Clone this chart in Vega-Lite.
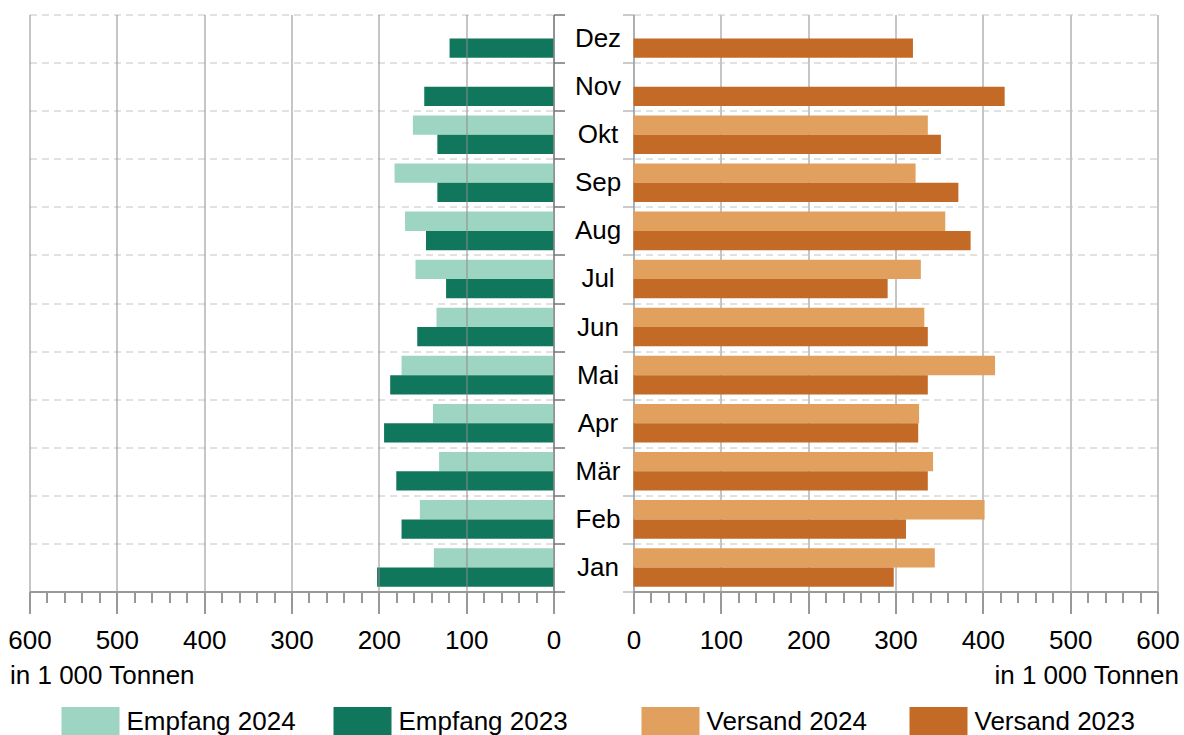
{
  "$schema": "https://vega.github.io/schema/vega-lite/v6.json",
  "autosize": {"type": "pad"},
  "padding": {"left": 7.5, "top": 1.5, "right": 5, "bottom": 0},
  "bounds": "flush",
  "spacing": 80,
  "config": {
    "font": "Liberation Sans",
    "view": {"stroke": null},
    "axis": {"labelFont": "Liberation Sans", "titleFont": "Liberation Sans", "titleFontWeight": "normal", "labelColor": "#000", "titleColor": "#000"},
    "legend": {"labelFont": "Liberation Sans", "labelColor": "#000"}
  },
  "datasets": {
    "empfang": [
      {"month": "Dez", "series": "Empfang 2023", "value": 119},
      {"month": "Nov", "series": "Empfang 2023", "value": 148},
      {"month": "Okt", "series": "Empfang 2024", "value": 161},
      {"month": "Okt", "series": "Empfang 2023", "value": 133},
      {"month": "Sep", "series": "Empfang 2024", "value": 182},
      {"month": "Sep", "series": "Empfang 2023", "value": 133},
      {"month": "Aug", "series": "Empfang 2024", "value": 170},
      {"month": "Aug", "series": "Empfang 2023", "value": 146},
      {"month": "Jul", "series": "Empfang 2024", "value": 158},
      {"month": "Jul", "series": "Empfang 2023", "value": 123},
      {"month": "Jun", "series": "Empfang 2024", "value": 134},
      {"month": "Jun", "series": "Empfang 2023", "value": 156},
      {"month": "Mai", "series": "Empfang 2024", "value": 174},
      {"month": "Mai", "series": "Empfang 2023", "value": 187},
      {"month": "Apr", "series": "Empfang 2024", "value": 138},
      {"month": "Apr", "series": "Empfang 2023", "value": 194},
      {"month": "Mär", "series": "Empfang 2024", "value": 131},
      {"month": "Mär", "series": "Empfang 2023", "value": 180},
      {"month": "Feb", "series": "Empfang 2024", "value": 153},
      {"month": "Feb", "series": "Empfang 2023", "value": 174},
      {"month": "Jan", "series": "Empfang 2024", "value": 137},
      {"month": "Jan", "series": "Empfang 2023", "value": 202}
    ],
    "versand": [
      {"month": "Dez", "series": "Versand 2023", "value": 320},
      {"month": "Nov", "series": "Versand 2023", "value": 425},
      {"month": "Okt", "series": "Versand 2024", "value": 337},
      {"month": "Okt", "series": "Versand 2023", "value": 352},
      {"month": "Sep", "series": "Versand 2024", "value": 323},
      {"month": "Sep", "series": "Versand 2023", "value": 372},
      {"month": "Aug", "series": "Versand 2024", "value": 357},
      {"month": "Aug", "series": "Versand 2023", "value": 386},
      {"month": "Jul", "series": "Versand 2024", "value": 329},
      {"month": "Jul", "series": "Versand 2023", "value": 291},
      {"month": "Jun", "series": "Versand 2024", "value": 333},
      {"month": "Jun", "series": "Versand 2023", "value": 337},
      {"month": "Mai", "series": "Versand 2024", "value": 414},
      {"month": "Mai", "series": "Versand 2023", "value": 337},
      {"month": "Apr", "series": "Versand 2024", "value": 327},
      {"month": "Apr", "series": "Versand 2023", "value": 326},
      {"month": "Mär", "series": "Versand 2024", "value": 343},
      {"month": "Mär", "series": "Versand 2023", "value": 337},
      {"month": "Feb", "series": "Versand 2024", "value": 402},
      {"month": "Feb", "series": "Versand 2023", "value": 312},
      {"month": "Jan", "series": "Versand 2024", "value": 345},
      {"month": "Jan", "series": "Versand 2023", "value": 298}
    ]
  },
  "resolve": {"scale": {"color": "independent", "y": "independent", "x": "independent", "yOffset": "independent"}},
  "hconcat": [
    {
      "width": 524,
      "height": 577,
      "data": {"name": "empfang"},
      "mark": {"type": "bar"},
      "encoding": {
        "y": {
          "field": "month", "type": "nominal", "sort": null,
          "scale": {"domain": ["Dez", "Nov", "Okt", "Sep", "Aug", "Jul", "Jun", "Mai", "Apr", "Mär", "Feb", "Jan"], "paddingInner": 0, "paddingOuter": 0},
          "axis": {"orient": "right", "title": null, "labels": false, "tickBand": "extent", "tickSize": 11, "tickColor": "#333", "domainColor": "#333", "grid": true, "gridDash": [7, 5], "gridColor": "#c4c4c4"}
        },
        "yOffset": {
          "field": "series", "type": "nominal",
          "scale": {"domain": ["Empfang 2024", "Empfang 2023"], "paddingInner": 0, "paddingOuter": 0.245}
        },
        "x": {
          "field": "value", "type": "quantitative",
          "scale": {"domain": [0, 600], "reverse": true, "nice": false},
          "axis": {
            "values": [0, 20, 40, 60, 80, 100, 120, 140, 160, 180, 200, 220, 240, 260, 280, 300, 320, 340, 360, 380, 400, 420, 440, 460, 480, 500, 520, 540, 560, 580, 600],
            "labelExpr": "datum.value % 100 === 0 ? datum.label : ''",
            "labelFontSize": 26, "labelFlush": false, "labelOverlap": false, "labelPadding": 14,
            "tickSize": {"condition": {"test": "datum.value % 100 === 0", "value": 22}, "value": 11},
            "tickColor": "#333", "domainColor": "#999", "domainWidth": 2,
            "grid": true, "gridColor": "#8c8c8c",
            "gridOpacity": {"condition": {"test": "datum.value % 100 === 0", "value": 1}, "value": 0},
            "title": "in 1 000 Tonnen", "titleFontSize": 26, "titleAlign": "left", "titleAnchor": "start", "titleX": -20, "titleY": 92, "titleBaseline": "alphabetic",
            "zindex": 1
          }
        },
        "color": {
          "field": "series", "type": "nominal",
          "scale": {"domain": ["Empfang 2024", "Empfang 2023"], "range": ["#9dd5c2", "#10775c"]},
          "legend": {"title": null, "orient": "none", "legendX": 32, "legendY": 678, "direction": "horizontal", "symbolType": "M-1,-0.52H1V0.52H-1Z", "symbolSize": 3364, "symbolStrokeWidth": 0, "labelFontSize": 26, "labelOffset": 7, "columnPadding": 37, "labelLimit": 400}
        }
      }
    },
    {
      "width": 524,
      "height": 577,
      "data": {"name": "versand"},
      "mark": {"type": "bar"},
      "encoding": {
        "y": {
          "field": "month", "type": "nominal", "sort": null,
          "scale": {"domain": ["Dez", "Nov", "Okt", "Sep", "Aug", "Jul", "Jun", "Mai", "Apr", "Mär", "Feb", "Jan"], "paddingInner": 0, "paddingOuter": 0},
          "axis": {"orient": "left", "title": null, "labels": true, "labelAlign": "center", "labelBaseline": "middle", "labelPadding": 25, "labelFontSize": 26, "tickBand": "extent", "tickSize": 11, "tickColor": "#999", "domainColor": "#999", "grid": true, "gridDash": [7, 5], "gridColor": "#c4c4c4"}
        },
        "yOffset": {
          "field": "series", "type": "nominal",
          "scale": {"domain": ["Versand 2024", "Versand 2023"], "paddingInner": 0, "paddingOuter": 0.245}
        },
        "x": {
          "field": "value", "type": "quantitative",
          "scale": {"domain": [0, 600], "nice": false},
          "axis": {
            "values": [0, 20, 40, 60, 80, 100, 120, 140, 160, 180, 200, 220, 240, 260, 280, 300, 320, 340, 360, 380, 400, 420, 440, 460, 480, 500, 520, 540, 560, 580, 600],
            "labelExpr": "datum.value % 100 === 0 ? datum.label : ''",
            "labelFontSize": 26, "labelFlush": false, "labelOverlap": false, "labelPadding": 14,
            "tickSize": {"condition": {"test": "datum.value % 100 === 0", "value": 22}, "value": 11},
            "tickColor": "#333", "domainColor": "#999", "domainWidth": 2,
            "grid": true, "gridColor": "#8c8c8c",
            "gridOpacity": {"condition": {"test": "datum.value % 100 === 0", "value": 1}, "value": 0},
            "title": "in 1 000 Tonnen", "titleFontSize": 26, "titleAlign": "right", "titleAnchor": "end", "titleX": 545, "titleY": 92, "titleBaseline": "alphabetic"
          }
        },
        "color": {
          "field": "series", "type": "nominal",
          "scale": {"domain": ["Versand 2024", "Versand 2023"], "range": ["#e1a05e", "#c46a27"]},
          "legend": {"title": null, "orient": "none", "legendX": 8, "legendY": 678, "direction": "horizontal", "symbolType": "M-1,-0.52H1V0.52H-1Z", "symbolSize": 3364, "symbolStrokeWidth": 0, "labelFontSize": 26, "labelOffset": 7, "columnPadding": 42, "labelLimit": 400}
        }
      }
    }
  ]
}
